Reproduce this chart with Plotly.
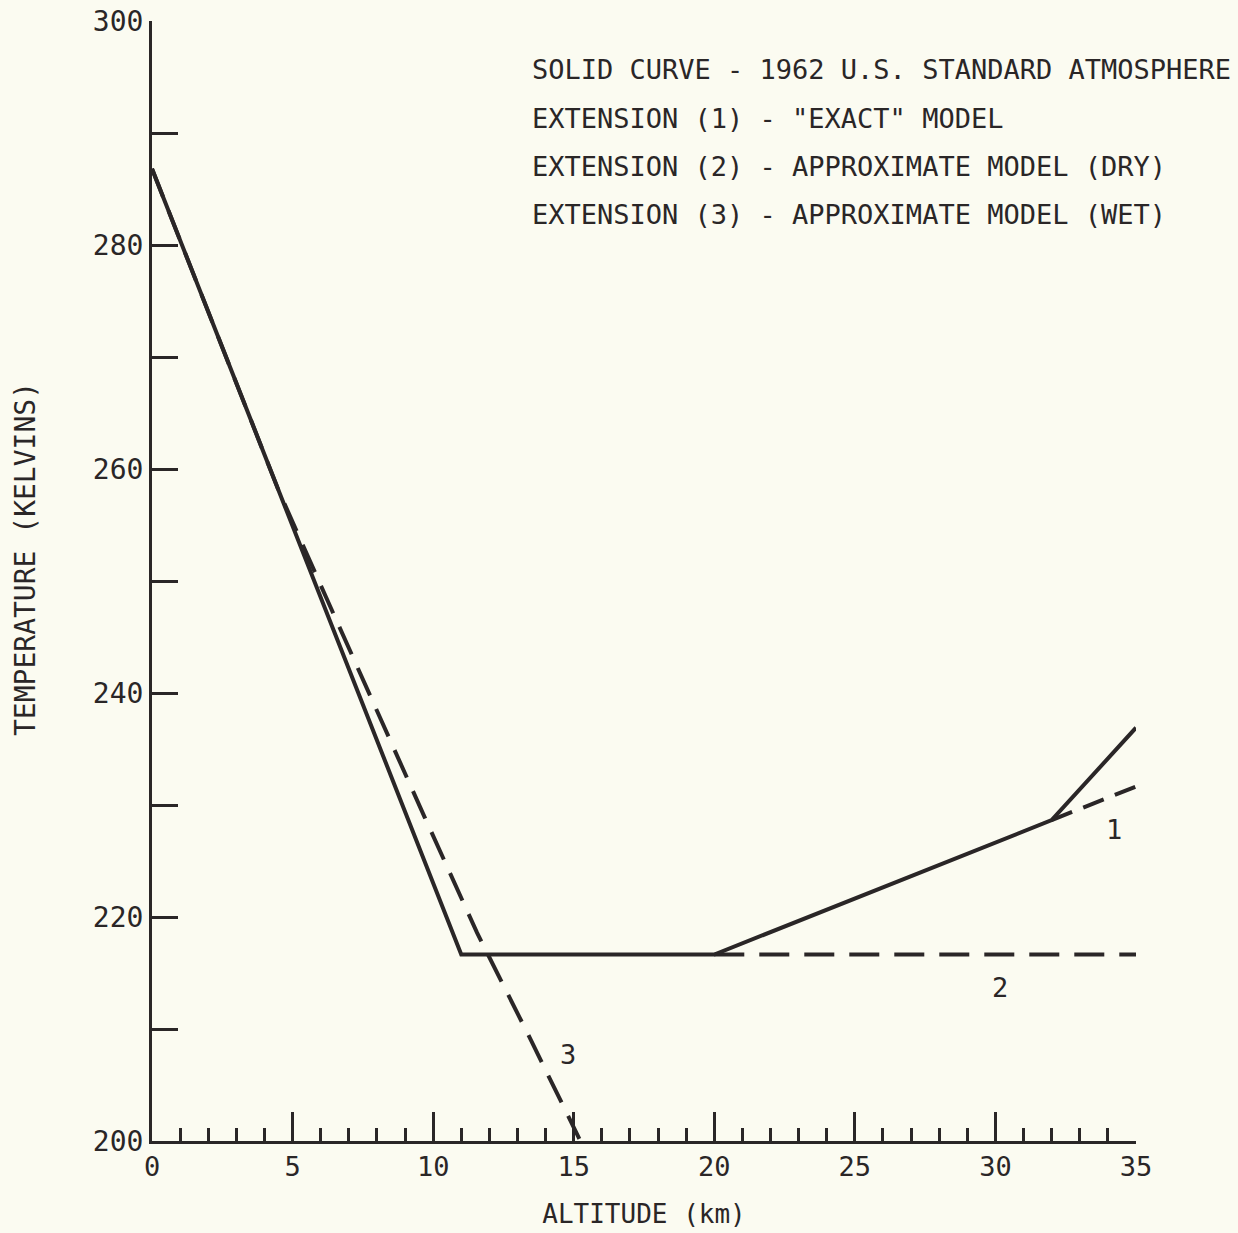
import plotly.graph_objects as go

# ---- data ----
solid_alt = [0, 11, 20, 32, 35]
solid_temp = [286.8, 216.65, 216.65, 228.65, 236.9]

ext1_alt = [32, 35]
ext1_temp = [228.65, 231.65]

ext2_alt = [20, 35]
ext2_temp = [216.65, 216.65]

ext3_alt = [0, 2, 4.5, 6.2, 7.86, 9.7, 11.56, 13.4, 15.2]
ext3_temp = [286.8, 274.1, 258.1, 248.5, 239.1, 228.9, 218.6, 209.4, 200.2]

legend_lines = [
    "SOLID CURVE - 1962 U.S. STANDARD ATMOSPHERE",
    "EXTENSION (1) - \"EXACT\" MODEL",
    "EXTENSION (2) - APPROXIMATE MODEL (DRY)",
    "EXTENSION (3) - APPROXIMATE MODEL (WET)",
]
curve_labels = ["1", "2", "3"]
curve_label_x = [34.2, 30.15, 14.8]
curve_label_y = [227.8, 213.7, 207.7]

y_tickvals = [200, 210, 220, 230, 240, 250, 260, 270, 280, 290, 300]
y_ticktext = ["200", "", "220", "", "240", "", "260", "", "280", "", "300"]
x_tickvals = [0, 5, 10, 15, 20, 25, 30, 35]

INK = "#2a2627"
BG = "#fbfbf1"
FONT = "DejaVu Sans Mono, monospace"

fig = go.Figure()
dash = "30px,15px"
fig.add_trace(go.Scatter(x=ext3_alt, y=ext3_temp, mode="lines",
                         line=dict(color=INK, width=4, dash=dash), showlegend=False))
fig.add_trace(go.Scatter(x=ext2_alt, y=ext2_temp, mode="lines",
                         line=dict(color=INK, width=4, dash=dash), showlegend=False))
fig.add_trace(go.Scatter(x=ext1_alt, y=ext1_temp, mode="lines",
                         line=dict(color=INK, width=4, dash="22px,12px"), showlegend=False))
fig.add_trace(go.Scatter(x=solid_alt, y=solid_temp, mode="lines",
                         line=dict(color=INK, width=4), showlegend=False))

for i, t in enumerate(legend_lines):
    fig.add_annotation(text=t, xref="paper", yref="paper", x=(530 - 152) / 984,
                       y=1 - (70 + 48.3 * i - 21) / 1120, xanchor="left", yanchor="middle",
                       showarrow=False, font=dict(family=FONT, size=27, color=INK))

for t, xx, yy in zip(curve_labels, curve_label_x, curve_label_y):
    fig.add_annotation(text=t, x=xx, y=yy, showarrow=False,
                       font=dict(family=FONT, size=27, color=INK))

# y-axis title placed as rotated annotation (centred where the reference has it)
fig.add_annotation(text="TEMPERATURE (KELVINS)", xref="paper", yref="paper",
                   x=(25 - 152) / 984, y=1 - (559 - 21) / 1120, textangle=-90,
                   xanchor="center", yanchor="middle", showarrow=False,
                   font=dict(family=FONT, size=28, color=INK))

fig.update_layout(
    width=1238, height=1233,
    margin=dict(l=152, r=102, t=21, b=92),
    paper_bgcolor=BG, plot_bgcolor=BG,
    font=dict(family=FONT, size=27, color=INK),
    xaxis=dict(range=[0, 35], tickvals=x_tickvals, ticks="inside", ticklen=29, tickwidth=3,
               tickcolor=INK, showline=True, linecolor=INK, linewidth=3, showgrid=False,
               zeroline=False, automargin=False,
               minor=dict(dtick=1, ticks="inside", ticklen=13, tickwidth=3,
                          tickcolor=INK, showgrid=False),
               title=dict(text="ALTITUDE (km)", standoff=24, font=dict(size=26)),
               tickfont=dict(size=27)),
    yaxis=dict(range=[200, 300], tickvals=y_tickvals, ticktext=y_ticktext, ticks="inside",
               ticklen=26, tickwidth=3, tickcolor=INK, showline=True, linecolor=INK,
               linewidth=3, showgrid=False, zeroline=False, automargin=False,
               tickfont=dict(size=28)),
)

fig.write_html("out.html")
